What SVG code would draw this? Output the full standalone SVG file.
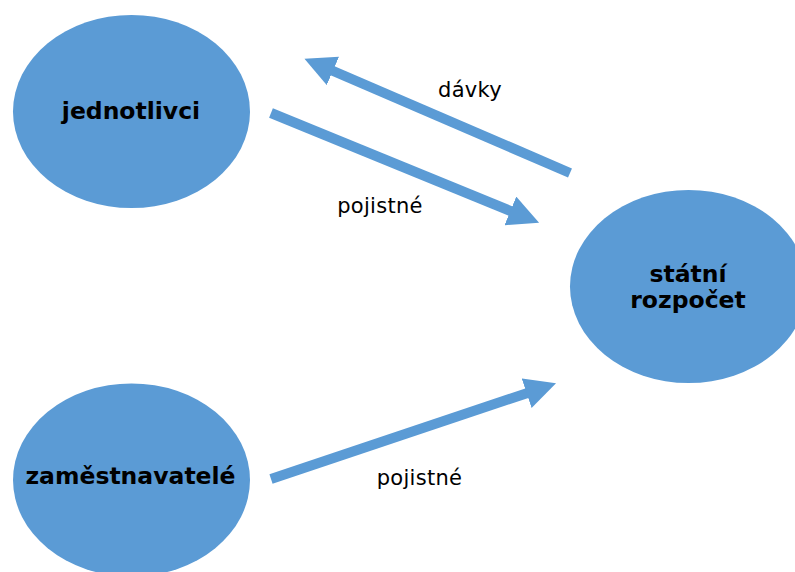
<svg xmlns="http://www.w3.org/2000/svg" width="795" height="572" viewBox="0 0 795 572">
<style>
.node{fill:#5B9BD5;}
.nt{font-family:"DejaVu Sans","Verdana",sans-serif;font-weight:bold;font-size:23.5px;fill:#000;text-anchor:middle;}
.lbl{font-family:"DejaVu Sans","Verdana",sans-serif;font-size:21px;letter-spacing:0.3px;fill:#000;text-anchor:middle;}
.arr{stroke:#5B9BD5;stroke-width:10;fill:none;marker-end:url(#head);}
</style>
<defs>
<marker id="head" markerUnits="userSpaceOnUse" markerWidth="31" markerHeight="31" viewBox="0 0 31 31" refX="1" refY="15.5" orient="auto">
<path d="M0,0 L31,15.5 L0,31 z" fill="#5B9BD5"/>
</marker>
</defs>
<rect width="795" height="572" fill="#fff"/>
<g id="jednotlivci">
<ellipse class="node" cx="131.5" cy="111.5" rx="118.5" ry="96.5"/>
<text class="nt" x="131" y="119">jednotlivci</text>
</g>
<g id="zamestnavatele">
<ellipse class="node" cx="131.5" cy="480" rx="118.5" ry="96.5"/>
<text class="nt" x="130.5" y="484">zaměstnavatelé</text>
</g>
<g id="statni_rozpocet">
<ellipse class="node" cx="688.5" cy="286.5" rx="118.5" ry="96.5"/>
<text class="nt" x="688" y="282">státní</text>
<text class="nt" x="688" y="308">rozpočet</text>
</g>
<g id="connectors">
<line class="arr" x1="570" y1="173" x2="332" y2="70.5"/>
<line class="arr" x1="271" y1="113" x2="511.3" y2="211.3"/>
<line class="arr" x1="271" y1="479" x2="527.6" y2="392.9"/>
<text class="lbl" x="470" y="97">dávky</text>
<text class="lbl" x="380" y="213">pojistné</text>
<text class="lbl" x="419.5" y="485">pojistné</text>
</g>
</svg>
